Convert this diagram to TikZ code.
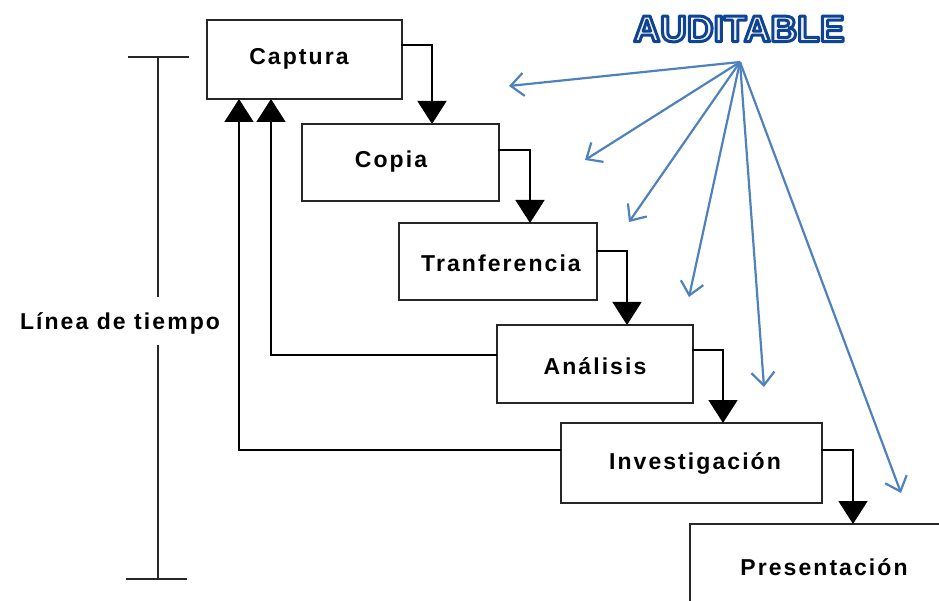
\documentclass[tikz,border=0pt]{standalone}
\usepackage{fontspec}
\setmainfont{Liberation Sans}
\newfontfamily\boxfont[LetterSpace=9]{Liberation Sans}
\usetikzlibrary{arrows.meta}
\definecolor{audblue}{HTML}{0E4496}
\definecolor{audfill}{HTML}{F2F0EA}
\definecolor{arrblue}{HTML}{4F81BD}
\tikzset{
  stage/.style={draw=black!85, line width=1.6pt, fill=white, inner sep=0pt},
  lbl/.style={font=\boxfont\bfseries\fontsize{23}{26}\selectfont, inner sep=0pt},
  flow/.style={draw=black, line width=1.5pt, -{Triangle[length=23pt,width=29pt]}},
  audit/.style={draw=arrblue, line width=2.2pt, -{Straight Barb[length=13pt,width=23pt,line width=2.2pt]}},
  tick/.style={draw=black!85, line width=1.6pt}
}
\begin{document}
\begin{tikzpicture}[x=1pt,y=-1pt]
\useasboundingbox (0,0) rectangle (939,601);
% boxes
\draw[stage] (207,20) rectangle (402,99);
\draw[stage] (302,124) rectangle (499,201);
\draw[stage] (399,223) rectangle (597,300);
\draw[stage] (497,325) rectangle (693,403);
\draw[stage] (561,423) rectangle (822,503);
\draw[stage] (690,524) rectangle (945,610);
\node[lbl] (cap) at (299,59) {Captura};
\node[lbl] (cop) at (391,162) {Copia};
\node[lbl] (tra) at (501,263) {Tranferencia};
\node[lbl] (ana) at (595,366) {Análisis};
\node[lbl] (inv) at (695,464) {Investigación};
\node[lbl] (pre) at (824,567) {Presentación};
% named anchor coordinates
\coordinate (capR) at (401,45);
\coordinate (capB1) at (239,99);
\coordinate (capB2) at (271,99);
\coordinate (copT) at (432,124);
\coordinate (copR) at (498,150);
\coordinate (traT) at (530,223);
\coordinate (traR) at (596,251);
\coordinate (anaT) at (627,325);
\coordinate (anaR) at (692,350);
\coordinate (anaL) at (497,355);
\coordinate (invT) at (723,423);
\coordinate (invR) at (821,450);
\coordinate (invL) at (561,450);
\coordinate (preT) at (853,524);
% flow connectors
\draw[flow] (capR) -| (copT);
\draw[flow] (copR) -| (traT);
\draw[flow] (traR) -| (anaT);
\draw[flow] (anaR) -| (invT);
\draw[flow] (invR) -| (preT);
\draw[flow] (anaL) -| (capB2);
\draw[flow] (invL) -| (capB1);
% time line
\coordinate (tlT) at (158,57);
\coordinate (tlB) at (158,579);
\coordinate (tlM1) at (158,297);
\coordinate (tlM2) at (158,345);
\draw[tick] (128,57) -- (189,57);
\draw[tick] (126,579) -- (187,579);
\draw[tick] (tlT) -- (tlM1);
\draw[tick] (tlM2) -- (tlB);
\node[lbl] (tl) at (120,323) {Línea de tiempo};
% AUDITABLE (filled and stroked glyphs)
\node[inner sep=0pt, font=\bfseries\fontsize{37}{42}\selectfont] (aud) at (739,29)
  {\textcolor{audfill}{\special{pdf:literal direct 0.055 0.267 0.588 RG 3 w 1 j 2 Tr}AUDITABLE\special{pdf:literal direct 0 Tr}}};
\coordinate (apex) at (740,62);
\coordinate (t1) at (509,86);
\coordinate (t2) at (585,160);
\coordinate (t3) at (629,222);
\coordinate (t4) at (689,297);
\coordinate (t5) at (764,387);
\coordinate (t6) at (901,493);
\foreach \t in {t1,t2,t3,t4,t5,t6} \draw[audit] (apex) -- (\t);
\end{tikzpicture}
\end{document}
